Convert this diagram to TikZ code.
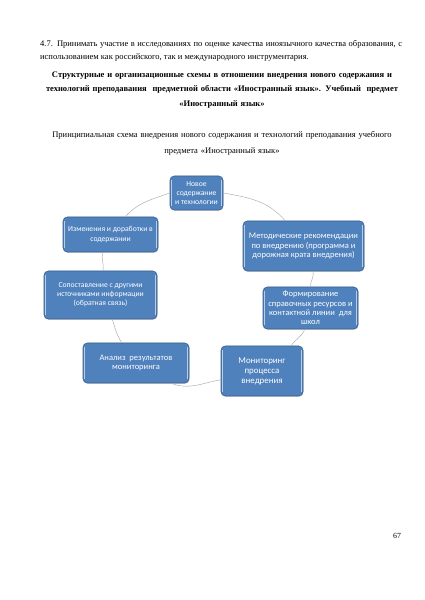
\documentclass[tikz,border=0pt]{standalone}
\usepackage{fontspec}
\setmainfont{Liberation Serif}
\newfontfamily\boxfont{Carlito}
\usetikzlibrary{shadows}
\definecolor{boxblue}{HTML}{4F81BD}
\definecolor{boxedge}{HTML}{385D8A}
\definecolor{bevel}{HTML}{B9CDE5}
\definecolor{linkgray}{HTML}{A6A6A6}
\newlength\unitpx
\setlength\unitpx{0.049528cm}

\begin{document}
\begin{tikzpicture}[
    x=\unitpx, y=\unitpx,
    stage/.style={
      rectangle,
      rounded corners=6pt,
      draw=boxedge,
      line width=0.8pt,
      fill=boxblue,
      text=white,
      align=center,
      inner sep=1pt,
      font=\boxfont\fontsize{12}{13}\selectfont,
      drop shadow={shadow xshift=0.6pt, shadow yshift=-1.2pt, opacity=0.35},
      path picture={
        \draw[bevel, line width=1.2pt]
          ([shift={(2.2pt,5pt)}]path picture bounding box.south west) --
          ([shift={(2.2pt,-5pt)}]path picture bounding box.north west);
        \draw[bevel, line width=1.2pt]
          ([shift={(-2.2pt,5pt)}]path picture bounding box.south east) --
          ([shift={(-2.2pt,-5pt)}]path picture bounding box.north east);
      }
    },
    small/.style={font=\boxfont\fontsize{10.8}{12.8}\selectfont},
    link/.style={draw=linkgray, line width=0.6pt}
  ]

    \useasboundingbox[fill=white] (0,0) rectangle (424,600);

    % text of the page
    \node[anchor=north west, text width=362*\unitpx, align=justify, inner sep=0pt,
      font=\fontsize{12}{18.2}\selectfont] (para) at (40,560)
      {4.7. Принимать участие в исследованиях по оценке качества иноязычного качества образования, с\linebreak
       использованием как российского, так и международного инструментария.};
    \node[anchor=north, text width=380*\unitpx, align=center, inner sep=0pt,
      font=\bfseries\fontsize{12}{20}\selectfont] (title) at (222,528)
      {Структурные и организационные схемы в отношении внедрения нового содержания и\\
       технологий преподавания \ предметной области «Иностранный язык». Учебный \ предмет\\
       «Иностранный язык»};
    \node[anchor=north, text width=380*\unitpx, align=center, inner sep=0pt,
      font=\fontsize{12}{22.5}\selectfont] (caption) at (222,469)
      {Принципиальная схема внедрения нового содержания и технологий преподавания учебного\\
       предмета «Иностранный язык»};

    % the cycle
    \node[stage, small, minimum width=53*\unitpx, minimum height=34*\unitpx] (new) at (196.5,407)
      {Новое\\ содержание\\ и технологии};
    \node[stage, minimum width=121*\unitpx, minimum height=50*\unitpx] (method) at (303.5,354)
      {Методические рекомендации\\ по внедрению (программа и\\ дорожная крата внедрения)};
    \node[stage, minimum width=95*\unitpx, minimum height=42*\unitpx] (form) at (310.5,292)
      {Формирование\\ справочных ресурсов и\\ контактной линии \ для\\ школ};
    \node[stage, font=\boxfont\fontsize{12.5}{14}\selectfont,
      minimum width=82*\unitpx, minimum height=50*\unitpx] (monitor) at (262,229)
      {Мониторинг\\ процесса\\ внедрения};
    \node[stage, minimum width=106*\unitpx, minimum height=40*\unitpx] (analysis) at (136,237)
      {Анализ \ результатов\\ мониторинга};
    \node[stage, small, minimum width=113*\unitpx, minimum height=48*\unitpx] (compare) at (100.5,305)
      {Сопоставление с другими\\ источниками информации\\ (обратная связь)};
    \node[stage, small, minimum width=95*\unitpx, minimum height=35*\unitpx] (change) at (110.5,365.5)
      {Изменения и доработки в\\ содержании};

    \draw[link] (new.east) to[out=-10, in=131] (method.126);
    \draw[link] (method.-69) to[out=-80, in=92] (form.north);
    \draw[link] (form.-105) to[out=-111, in=57] (monitor.41);
    \draw[link] (monitor.192) to[out=-170, in=-21] (analysis.-30);
    \draw[link] (analysis.125) to[out=123, in=-73] (compare.-64);
    \draw[link] (compare.84) to[out=79, in=-110] (change.-113);
    \draw[link] (change.50) to[out=48, in=200] (new.west);

    \node[font=\fontsize{11}{13}\selectfont, inner sep=0pt] (page) at (397,64) {67};

\end{tikzpicture}
\end{document}
